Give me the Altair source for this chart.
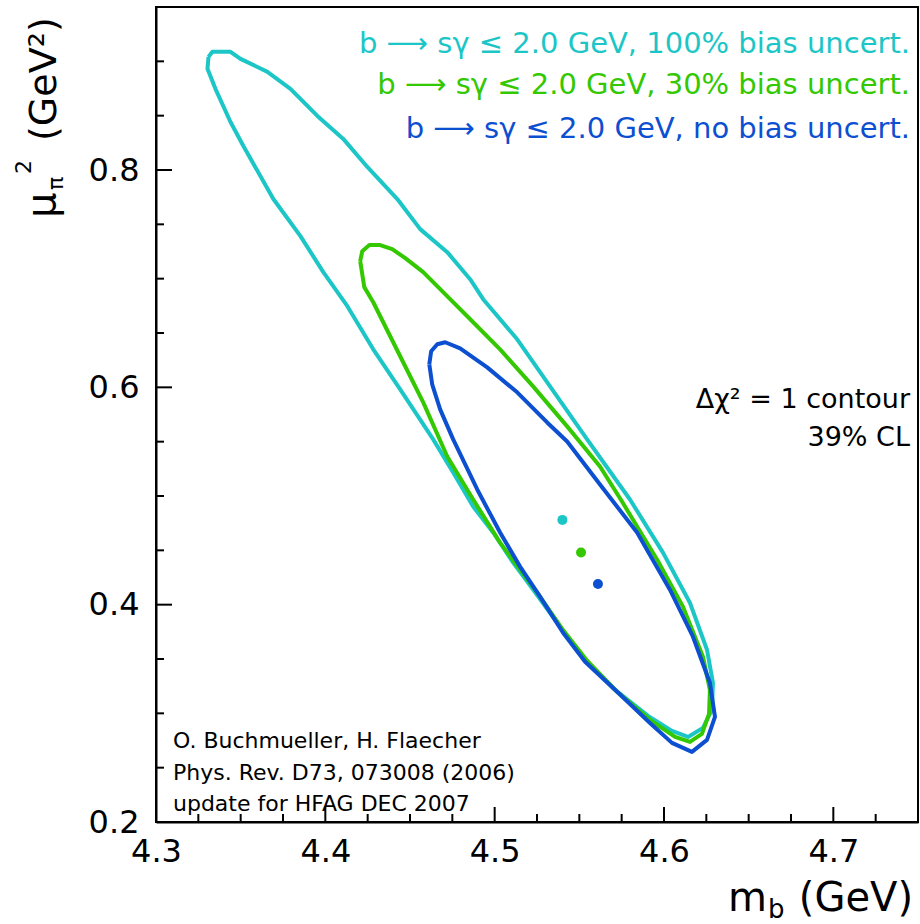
import altair as alt
import pandas as pd

# ---- contour data (m_b in GeV, mu_pi^2 in GeV^2) ----
cyan_x = [4.3310, 4.3333, 4.3440, 4.3499, 4.3658, 4.3794, 4.3953, 4.4106, 4.4248, 4.4425,
          4.4560, 4.4720, 4.4855, 4.4932, 4.5133, 4.5327, 4.5546, 4.5799, 4.5994, 4.6153,
          4.6254, 4.6289, 4.6283, 4.6230, 4.6142, 4.6047, 4.5906, 4.5711, 4.5534, 4.5386,
          4.5227, 4.5109, 4.4991, 4.4873, 4.4755, 4.4637, 4.4442, 4.4283, 4.4130, 4.3988,
          4.3853, 4.3693, 4.3516, 4.3440, 4.3351, 4.3304]
cyan_y = [0.9041, 0.9088, 0.9088, 0.9023, 0.8903, 0.8747, 0.8498, 0.8286, 0.8028, 0.7733,
          0.7456, 0.7244, 0.6995, 0.6811, 0.6442, 0.6009, 0.5521, 0.4968, 0.4479, 0.4018,
          0.3585, 0.3281, 0.3032, 0.2866, 0.2783, 0.2839, 0.2977, 0.3217, 0.3493, 0.3797,
          0.4138, 0.4387, 0.4664, 0.4903, 0.5217, 0.5521, 0.5982, 0.6350, 0.6747, 0.7060,
          0.7392, 0.7733, 0.8221, 0.8442, 0.8747, 0.8931]

green_x = [4.4206, 4.4218, 4.4260, 4.4324, 4.4395, 4.4472, 4.4578, 4.4637, 4.4737, 4.4838,
           4.5032, 4.5227, 4.5428, 4.5622, 4.5752, 4.5959, 4.6112, 4.6230, 4.6271, 4.6266,
           4.6224, 4.6153, 4.6065, 4.5917, 4.5723, 4.5546, 4.5398, 4.5251, 4.5032, 4.4873,
           4.4720, 4.4578, 4.4442, 4.4283, 4.4230]
green_y = [0.7161, 0.7253, 0.7309, 0.7309, 0.7272, 0.7189, 0.7060, 0.6968, 0.6811, 0.6654,
           0.6350, 0.6009, 0.5641, 0.5272, 0.4949, 0.4415, 0.3982, 0.3521, 0.3217, 0.2995,
           0.2811, 0.2737, 0.2783, 0.2940, 0.3198, 0.3484, 0.3779, 0.4111, 0.4571, 0.4968,
           0.5364, 0.5862, 0.6286, 0.6783, 0.6922]

blue_x = [4.4614, 4.4625, 4.4661, 4.4708, 4.4796, 4.4956, 4.5133, 4.5310, 4.5428, 4.5622,
          4.5841, 4.6035, 4.6171, 4.6271, 4.6301, 4.6254, 4.6165, 4.6047, 4.5917, 4.5723,
          4.5534, 4.5404, 4.5268, 4.5150, 4.5032, 4.4897, 4.4755, 4.4678, 4.4631]
blue_y = [0.6212, 0.6332, 0.6396, 0.6415, 0.6359, 0.6184, 0.5954, 0.5677, 0.5502, 0.5106,
          0.4664, 0.4138, 0.3705, 0.3281, 0.2968, 0.2756, 0.2645, 0.2728, 0.2912, 0.3198,
          0.3475, 0.3742, 0.4074, 0.4350, 0.4664, 0.5060, 0.5521, 0.5797, 0.6028]

# best-fit points
best_x = [4.540, 4.551, 4.561]
best_y = [0.478, 0.448, 0.419]

series_names = ["100% bias", "30% bias", "no bias"]
colors = ["#1cc6c6", "#33c800", "#0c4fd0"]

legend_lines = ["b ⟶ sγ ≤ 2.0 GeV, 100% bias uncert.",
                "b ⟶ sγ ≤ 2.0 GeV, 30% bias uncert.",
                "b ⟶ sγ ≤ 2.0 GeV, no bias uncert."]

x_major = [4.3, 4.4, 4.5, 4.6, 4.7]
x_minor = [4.325, 4.35, 4.375, 4.425, 4.45, 4.475, 4.525, 4.55, 4.575,
           4.625, 4.65, 4.675, 4.725]
y_major = [0.2, 0.4, 0.6, 0.8]
y_minor = [0.25, 0.3, 0.35, 0.45, 0.5, 0.55, 0.65, 0.7, 0.75, 0.85, 0.9]

FONT = "DejaVu Sans"
W, H = 762, 815

xs = alt.Scale(domain=[4.3, 4.75], nice=False, zero=False)
ys = alt.Scale(domain=[0.2, 0.95], nice=False, zero=False)

x_axis = alt.Axis(values=x_major, format=".1f", title=None, ticks=False, grid=False,
                  domainColor="black", domainWidth=2, labelFont=FONT, labelFontSize=32,
                  labelColor="black", labelPadding=14, labelFlush=False, labelOverlap=False)
y_axis = alt.Axis(values=y_major, format=".1f", title=None, ticks=False, grid=False,
                  domainColor="black", domainWidth=2, labelFont=FONT, labelFontSize=32,
                  labelColor="black", labelPadding=17, labelFlush=False, labelOverlap=False)


def X(field):
    return alt.X(field, scale=xs, axis=x_axis, title=None)


def Y(field):
    return alt.Y(field, scale=ys, axis=y_axis, title=None)


def contour_df(xv, yv):
    xv = list(xv) + [xv[0]]
    yv = list(yv) + [yv[0]]
    return pd.DataFrame({"x": xv, "y": yv, "i": range(len(xv))})


layers = []
contours = [(cyan_x, cyan_y), (green_x, green_y), (blue_x, blue_y)]
for k, (cx, cy) in enumerate(contours):
    layers.append(
        alt.Chart(contour_df(cx, cy)).mark_line(
            color=colors[k], strokeWidth=4, strokeJoin="round", clip=True
        ).encode(x=X("x:Q"), y=Y("y:Q"), order="i:Q")
    )

pts = pd.DataFrame({"x": best_x, "y": best_y, "s": series_names})
layers.append(
    alt.Chart(pts).mark_point(filled=True, size=100, opacity=1).encode(
        x=X("x:Q"), y=Y("y:Q"),
        color=alt.Color("s:N", scale=alt.Scale(domain=series_names, range=colors), legend=None),
    )
)


# inward ticks
def tick_layer(vals, axis, length):
    df = pd.DataFrame({"x": vals, "y": vals})
    if axis == "x":
        return alt.Chart(df).mark_rule(color="black", strokeWidth=2).encode(
            x=X("x:Q"), y=alt.value(H), y2=alt.value(H - length))
    return alt.Chart(df).mark_rule(color="black", strokeWidth=2).encode(
        y=Y("y:Q"), x=alt.value(0), x2=alt.value(length))


layers += [tick_layer(x_major, "x", 15), tick_layer(x_minor, "x", 8),
           tick_layer(y_major, "y", 16), tick_layer(y_minor, "y", 8)]


def label(text, x, y, size, color="black", align="left", angle=0, baseline="alphabetic"):
    kw = dict(font=FONT, fontSize=size, color=color, align=align, baseline=baseline)
    if angle:
        kw["angle"] = angle
    return alt.Chart(pd.DataFrame({"t": [text]})).mark_text(**kw).encode(
        text="t:N", x=alt.value(x), y=alt.value(y))


# legend texts
for k, line in enumerate(legend_lines):
    layers.append(label(line, 754, [46, 87, 131][k], 29, colors[k], align="right"))

# Delta chi^2 note
layers.append(label("Δχ² = 1 contour", 754, 401, 27, align="right"))
layers.append(label("39% CL", 754, 439, 27, align="right"))

# credits
layers.append(label("O. Buchmueller, H. Flaecher", 17, 741, 22))
layers.append(label("Phys. Rev. D73, 073008 (2006)", 17, 773, 22))
layers.append(label("update for HFAG DEC 2007", 17, 804, 22))

# x title: m_b (GeV)
layers.append(label("m", 572, 904, 40))
layers.append(label("b", 612, 911, 26))
layers.append(label("(GeV)", 757, 904, 40, align="right"))

# y title: mu_pi^2 (GeV^2), rotated
layers.append(label("μ", -101, 211, 40, angle=270))
layers.append(label("π", -93, 183, 22, angle=270))
layers.append(label("2", -125, 167, 22, angle=270))
layers.append(label("(GeV²)", -100, 134, 38, angle=270))

chart = alt.layer(*layers).properties(
    width=W, height=H,
    autosize=alt.AutoSizeParams(type="none"),
    padding={"left": 156, "top": 7, "right": 2, "bottom": 102},
    background="white",
).configure_view(stroke="black", strokeWidth=2)

chart.save("out.html", embed_options={"renderer": "svg", "actions": False})
